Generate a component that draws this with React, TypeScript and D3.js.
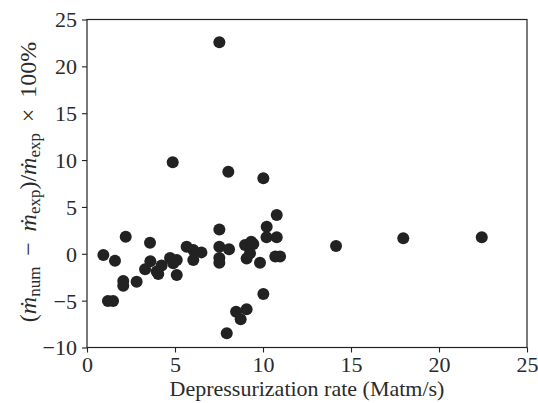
import { useEffect, useRef } from 'react';
import * as d3 from 'd3';

const W = 538, H = 403;
const M = { top: 19.5, right: 11, bottom: 55.5, left: 87 };
const FONT = '"Liberation Serif", "Times New Roman", serif';

// depressurization rate (Matm/s)
const RATE = [
  0.93, 1.19, 1.48, 1.59, 2.2, 2.06, 2.06, 2.82, 3.3, 3.58,
  3.6, 3.96, 4.05, 4.24, 4.72, 4.9, 5.1, 5.1, 4.87, 5.66,
  6.04, 6.04, 6.5, 7.52, 7.52, 7.52, 7.52, 7.52, 8.07, 8.03,
  7.94, 8.47, 8.73, 9.07, 8.98, 9.07, 9.26, 9.33, 9.45, 9.83,
  10.02, 10.02, 10.21, 10.2, 10.78, 10.78, 10.7, 10.97, 14.15, 17.97,
  22.43,
];
// relative error (%)
const ERROR = [
  -0.13, -5.04, -5.04, -0.74, 1.82, -2.9, -3.4, -2.98, -1.65, 1.19,
  -0.8, -1.9, -2.15, -1.25, -0.45, -1.0, -0.66, -2.26, 9.77, 0.76,
  0.4, -0.66, 0.15, 22.57, 2.6, 0.76, -0.45, -0.95, 0.48, 8.76,
  -8.48, -6.18, -6.99, -5.93, 0.94, -0.5, 0.05, 1.29, 1.05, -0.95,
  8.06, -4.29, 2.89, 1.76, 4.14, 1.76, -0.3, -0.3, 0.83, 1.65,
  1.76,
];
const X_TICKS = [0, 5, 10, 15, 20, 25];
const Y_TICKS = [-10, -5, 0, 5, 10, 15, 20, 25];

export default function App() {
  const ref = useRef<SVGSVGElement>(null);

  useEffect(() => {
    const svg = d3.select(ref.current);
    svg.selectAll('*').remove();

    const x = d3.scaleLinear().domain([0, 25]).range([M.left, W - M.right]);
    const y = d3.scaleLinear().domain([-10, 25]).range([H - M.bottom, M.top]);

    const pts = RATE.map((r, i) => ({ r, e: ERROR[i] }));

    svg.append('g')
      .selectAll('circle')
      .data(pts)
      .join('circle')
      .attr('cx', (d) => x(d.r))
      .attr('cy', (d) => y(d.e))
      .attr('r', 6)
      .attr('fill', '#222');

    // frame
    svg.append('rect')
      .attr('x', M.left)
      .attr('y', M.top)
      .attr('width', W - M.left - M.right)
      .attr('height', H - M.top - M.bottom)
      .attr('fill', 'none')
      .attr('stroke', '#222')
      .attr('stroke-width', 1.2);

    const fmt = d3.format('d');

    const gx = svg.append('g')
      .attr('transform', `translate(0,${H - M.bottom})`)
      .call(d3.axisBottom(x).tickValues(X_TICKS).tickFormat(fmt).tickSize(5).tickPadding(4));
    const gy = svg.append('g')
      .attr('transform', `translate(${M.left},0)`)
      .call(d3.axisLeft(y).tickValues(Y_TICKS).tickFormat(fmt).tickSize(5).tickPadding(5));

    [gx, gy].forEach((g) => {
      g.select('.domain').remove();
      g.selectAll('line').attr('stroke', '#222').attr('stroke-width', 1.1);
      g.selectAll('text')
        .attr('fill', '#2a2a2a')
        .attr('font-family', FONT)
        .attr('font-size', 22);
    });
    gy.selectAll('text').attr('dy', '0.34em');

    // x label
    svg.append('text')
      .attr('x', (M.left + W - M.right) / 2)
      .attr('y', 396)
      .attr('text-anchor', 'middle')
      .attr('font-family', FONT)
      .attr('font-size', 22)
      .attr('fill', '#2a2a2a')
      .text('Depressurization rate (Matm/s)');

    // y label
    const yl = svg.append('text')
      .attr('transform', 'translate(36,182) rotate(-90)')
      .attr('text-anchor', 'middle')
      .attr('font-family', FONT)
      .attr('font-size', 24)
      .attr('fill', '#2a2a2a')
      .style('white-space', 'pre');

    const parts: [string, string][] = [
      ['n', '('], ['i', 'ṁ'], ['s', 'num'], ['n', ' \u2009−\u2009 '], ['i', 'ṁ'], ['s', 'exp'],
      ['n', ')/'], ['i', 'ṁ'], ['s', 'exp'], ['n', ' \u2009×\u2009 100%'],
    ];
    let shifted = false;
    parts.forEach(([kind, txt]) => {
      const t = yl.append('tspan').text(txt);
      if (kind === 'i') t.attr('font-style', 'italic');
      if (kind === 's') {
        t.attr('font-size', 17).attr('dy', 4);
        shifted = true;
      } else if (shifted) {
        t.attr('dy', -4);
        shifted = false;
      }
    });
  }, []);

  return (
    <svg
      ref={ref}
      width={W}
      height={H}
      style={{ position: 'absolute', left: 0, top: 0, background: '#fff' }}
    />
  );
}
